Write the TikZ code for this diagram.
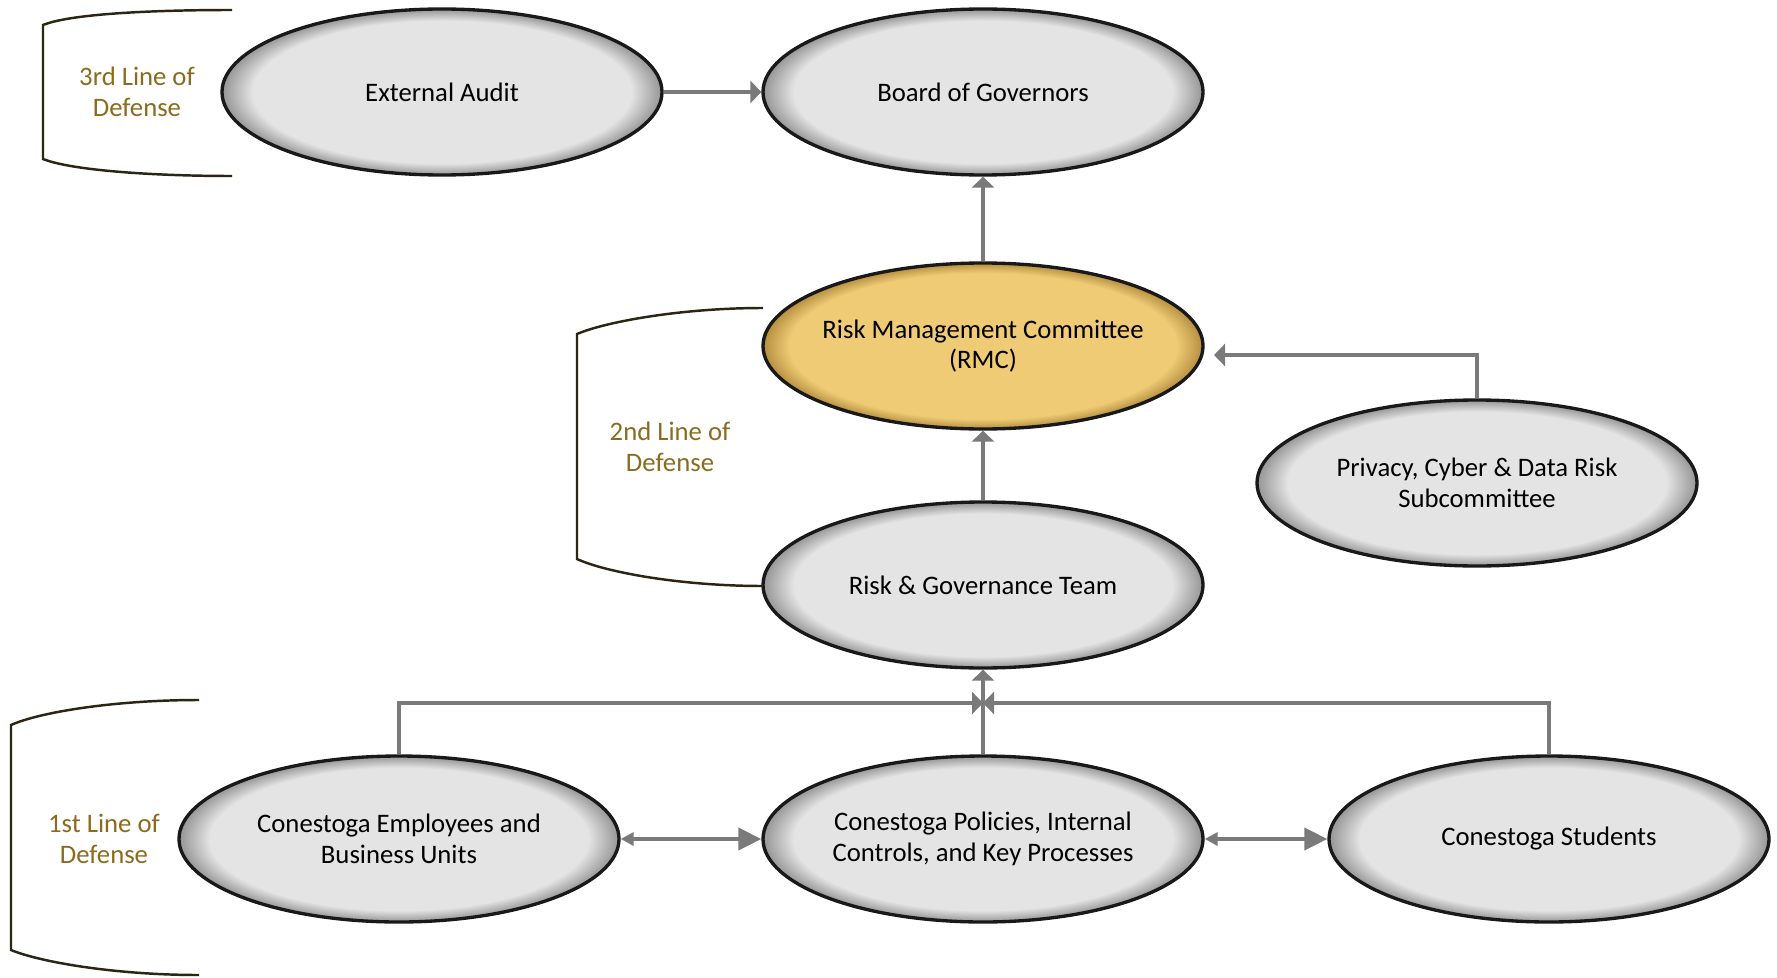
\documentclass[tikz,border=0pt]{standalone}
\usepackage{fontspec}
\setmainfont{Carlito}
\usetikzlibrary{shapes.geometric,arrows.meta}

\definecolor{bubblegray}{HTML}{E4E4E4}
\definecolor{bubblerim}{HTML}{959595}
\definecolor{rmcgold}{HTML}{EFCB76}
\definecolor{rmcrim}{HTML}{B48E3E}
\definecolor{linkgray}{HTML}{7A7A7A}
\definecolor{defgold}{HTML}{8C6B1F}
\definecolor{bracketbrown}{HTML}{2E2412}

\pgfdeclareradialshading{graybubble}{\pgfpoint{0bp}{0bp}}{color(0bp)=(bubblegray); color(21.5bp)=(bubblegray); color(25bp)=(bubblerim); color(50bp)=(bubblerim)}
\pgfdeclareradialshading{goldbubble}{\pgfpoint{0bp}{0bp}}{color(0bp)=(rmcgold); color(22bp)=(rmcgold); color(25bp)=(rmcrim); color(50bp)=(rmcrim)}

\begin{document}
\begin{tikzpicture}[x=0.1mm,y=-0.1mm,
    bubble/.style={ellipse, draw=black!90, line width=0.95pt, shade, shading=graybubble,
        minimum width=44mm, minimum height=16.6mm, inner xsep=-3mm, inner ysep=0pt,
        align=center, font=\fontsize{7.6}{8.7}\selectfont},
    link/.style={draw=linkgray, line width=1.1pt, -{Triangle[length=1.1mm,width=2.2mm]}},
    twoway/.style={draw=linkgray, line width=1.1pt,
        {Triangle[length=1.3mm,width=1.3mm]}-{Triangle[length=2.3mm,width=2.2mm]}},
    bracket/.style={draw=bracketbrown, line width=0.7pt},
    defense/.style={text=defgold, align=center, font=\fontsize{7.6}{8.7}\selectfont}]

    \fill[white] (0,0) rectangle (1777,978);
    \useasboundingbox (0,0) rectangle (1777,978);

    \node[bubble] (audit) at (442,92) {External Audit};
    \node[bubble] (board) at (983,92) {Board of Governors};
    \node[bubble, shading=goldbubble] (rmc) at (983,346) {Risk Management Committee\\(RMC)};
    \node[bubble] (privacy) at (1477,483) {Privacy, Cyber \& Data Risk\\Subcommittee};
    \node[bubble] (rgt) at (983,585) {Risk \& Governance Team};
    \node[bubble] (staff) at (399,839) {Conestoga Employees and\\Business Units};
    \node[bubble] (policies) at (983,839) {Conestoga Policies, Internal\\Controls, and Key Processes};
    \node[bubble] (students) at (1549,839) {Conestoga Students};

    \node[defense] (third) at (137,92) {3rd Line of\\Defense};
    \node[defense] (second) at (670,447) {2nd Line of\\Defense};
    \node[defense] (first) at (104,839) {1st Line of\\Defense};

    \draw[bracket] (232,10) .. controls (150,10) and (70,14) .. (43,25) -- (43,159)
        .. controls (70,170) and (150,176) .. (232,176);
    \draw[bracket] (763,308) .. controls (680,308) and (605,322) .. (577,334) -- (577,559)
        .. controls (605,572) and (680,586) .. (763,586);
    \draw[bracket] (199,700) .. controls (115,700) and (40,712) .. (11,725) -- (11,950)
        .. controls (40,962) and (115,975) .. (199,975);

    \coordinate (rmcin) at (1214,355);
    \coordinate (hub) at (983,703);

    \draw[link] (audit.east) -- (board.west);
    \draw[link] (rmc.north) -- (board.south);
    \draw[link] (rgt.north) -- (rmc.south);
    \draw[link] (privacy.north) |- (rmcin);
    \draw[link] (policies.north) -- (rgt.south);
    \draw[link] (staff.north) |- (hub);
    \draw[link] (students.north) |- (hub);
    \draw[twoway] (staff.east) -- (policies.west);
    \draw[twoway] (policies.east) -- (students.west);
\end{tikzpicture}
\end{document}
